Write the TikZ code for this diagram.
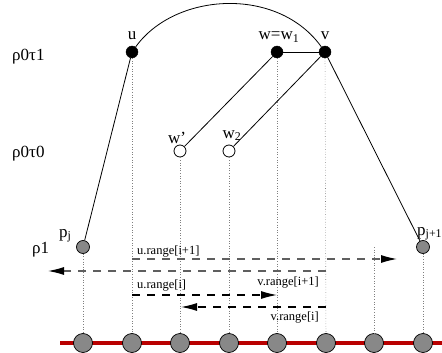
\documentclass[tikz,border=0pt]{standalone}
\usepackage{fontspec}
\setmainfont{Liberation Serif}
\usetikzlibrary{arrows.meta}
\definecolor{nodegray}{RGB}{136,136,136}
\definecolor{linered}{RGB}{185,0,0}
\definecolor{dashgray}{RGB}{95,95,95}
\begin{document}
\begin{tikzpicture}[x=1pt,y=-1pt,
  blk/.style={circle,fill=black,draw=black,inner sep=0pt,minimum size=12pt},
  wht/.style={circle,fill=white,draw=black,line width=0.8pt,inner sep=0pt,minimum size=12pt},
  gry/.style={circle,fill=nodegray,draw=black,line width=0.7pt,inner sep=0pt,minimum size=13pt},
  bot/.style={circle,fill=nodegray,draw=black,line width=0.7pt,inner sep=0pt,minimum size=19pt},
  edge/.style={line width=0.8pt},
  vdot/.style={gray,dotted,line width=0.6pt},
  rng/.style={dash pattern=on 8pt off 7pt,line width=1.1pt,-{Latex[length=16pt,width=8pt,black]}},
  big/.style={font=\fontsize{17}{20}\selectfont,inner sep=0pt},
  small/.style={font=\fontsize{12.5}{14}\selectfont,inner sep=0pt},
]
\useasboundingbox (0,0) rectangle (442,353);
% red base line
\coordinate (rl) at (60,343);
\coordinate (rr) at (442,343);
\draw[line width=4pt,linered] (rl) -- (rr);
% bottom nodes
\foreach \i/\x in {1/83,2/132,3/180,4/229,5/277,6/326,7/374,8/423}
  \node[bot] (b\i) at (\x,343) {};
% tree nodes
\node[blk] (u) at (132,52) {};
\node[blk] (w1) at (277,52) {};
\node[blk] (v) at (325,52) {};
\node[wht] (wp) at (180,151) {};
\node[wht] (w2) at (229,151) {};
\node[gry] (pj) at (83,247) {};
\node[gry] (pj1) at (423,247) {};
\coordinate (c7) at (374,247);
% labels
\node[big,anchor=base] (lu) at (132,40) {u};
\node[big,anchor=base] (lv) at (325,40) {v};
\node[big,anchor=base] (lw1) at (279,40) {w=w\textsubscript{1}};
\node[big,anchor=base] (lwp) at (177,143) {w’};
\node[big,anchor=base] (lw2) at (232,138) {w\textsubscript{2}};
\node[big,anchor=base west] (lpj) at (59,237) {p\textsubscript{j}};
\node[big,anchor=base west] (lpj1) at (417,235) {p\textsubscript{j+1}};
\node[big,anchor=base west] (r1) at (12,61) {ρ0τ1};
\node[big,anchor=base west] (r2) at (12,157) {ρ0τ0};
\node[big,anchor=base west] (r3) at (32,253) {ρ1};
% dotted verticals
\draw[vdot] (pj) -- (b1);
\draw[vdot] (u) -- (b2);
\draw[vdot] (wp) -- (b3);
\draw[vdot] (w2) -- (b4);
\draw[vdot] (w1) -- (b5);
\draw[vdot] (v) -- (b6);
\draw[vdot] (c7) -- (b7);
\draw[vdot] (pj1) -- (b8);
% tree edges
\draw[edge] (u) .. controls (175,-8) and (278,-14) .. (v);
\draw[edge] (u) -- (pj);
\draw[edge] (w1) -- (v);
\draw[edge] (w1) -- (wp);
\draw[edge] (v) -- (w2);
\draw[edge] (v) -- (pj1);
% range arrows
\coordinate (a1s) at (132,259); \coordinate (a1e) at (397,259);
\coordinate (a2s) at (326,271); \coordinate (a2e) at (48,271);
\coordinate (a3s) at (132,295); \coordinate (a3e) at (277,295);
\coordinate (a4s) at (326,307); \coordinate (a4e) at (181,307);
\draw[rng,dashgray] (a1s) -- (a1e);
\draw[rng,dashgray] (a2s) -- (a2e);
\draw[rng,black] (a3s) -- (a3e);
\draw[rng,black] (a4s) -- (a4e);
\node[small,anchor=base west] (t1) at (137,254) {u.range[i+1]};
\node[small,anchor=base west] (t2) at (137,288) {u.range[i]};
\node[small,anchor=base east] (t3) at (319,285) {v.range[i+1]};
\node[small,anchor=base east] (t4) at (319,320) {v.range[i]};
\end{tikzpicture}
\end{document}
